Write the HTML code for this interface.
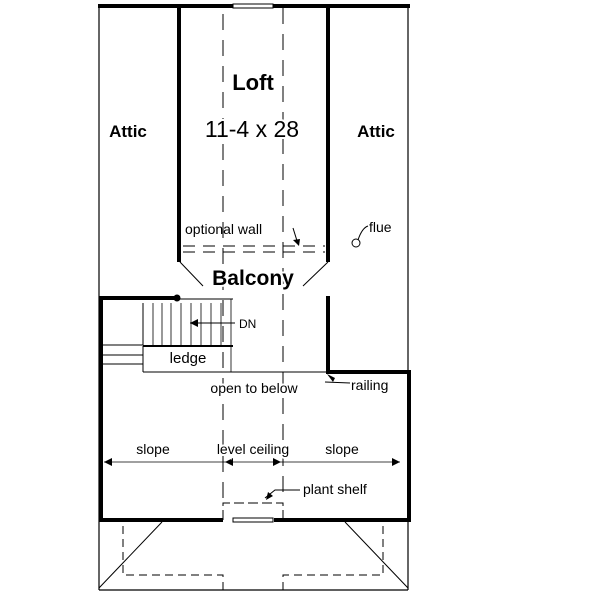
<!DOCTYPE html>
<html><head><style>body{margin:0;background:#fff}svg{display:block}text{font-family:"Liberation Sans",sans-serif;fill:#000}.bg{stroke:#fff;stroke-width:4;paint-order:stroke}</style></head>
<body>
<svg width="600" height="596" viewBox="0 0 600 596" xmlns="http://www.w3.org/2000/svg">
<g stroke="#000" fill="none">
<line x1="99" y1="6" x2="99" y2="590" stroke-width="1.2"/>
<line x1="408" y1="6" x2="408" y2="590" stroke-width="1.2"/>
<line x1="99" y1="590" x2="408" y2="590" stroke-width="1.2"/>
<line x1="98" y1="6" x2="233" y2="6" stroke-width="4"/>
<line x1="273" y1="6" x2="410" y2="6" stroke-width="4"/>
<rect x="233" y="4" width="40" height="4" stroke-width="1"/>
<line x1="179" y1="6" x2="179" y2="262" stroke-width="4"/>
<line x1="328" y1="6" x2="328" y2="262" stroke-width="4"/>
<line x1="180" y1="262" x2="203" y2="286" stroke-width="1"/>
<line x1="328" y1="262" x2="303" y2="286" stroke-width="1"/>
<line x1="223" y1="14" x2="223" y2="500" stroke-width="1" stroke-dasharray="16,10"/>
<line x1="283" y1="8" x2="283" y2="500" stroke-width="1" stroke-dasharray="16,10"/>
<line x1="183" y1="246" x2="325" y2="246" stroke-width="1" stroke-dasharray="12,8"/>
<line x1="183" y1="252" x2="325" y2="252" stroke-width="1" stroke-dasharray="12,8"/>
<line x1="99" y1="298" x2="180" y2="298" stroke-width="4"/>
<line x1="101" y1="296" x2="101" y2="522" stroke-width="4"/>
<line x1="99" y1="520" x2="223" y2="520" stroke-width="4"/>
<line x1="274" y1="520" x2="410" y2="520" stroke-width="4"/>
<rect x="233" y="518" width="40" height="4" stroke-width="1"/>
<line x1="409" y1="372" x2="409" y2="522" stroke-width="4"/>
<line x1="328" y1="296" x2="328" y2="374" stroke-width="4"/>
<line x1="326" y1="372" x2="411" y2="372" stroke-width="4"/>
<line x1="180" y1="299" x2="233" y2="299" stroke-width="1"/>
<circle cx="177" cy="298" r="3" fill="#000"/>
<line x1="143" y1="303" x2="143" y2="345" stroke-width="1"/>
<g stroke-width="0.8">
<line x1="153" y1="303" x2="153" y2="345"/><line x1="162" y1="303" x2="162" y2="345"/>
<line x1="171" y1="303" x2="171" y2="345"/><line x1="181" y1="303" x2="181" y2="345"/>
<line x1="191" y1="303" x2="191" y2="345"/><line x1="201" y1="303" x2="201" y2="345"/>
<line x1="211" y1="303" x2="211" y2="345"/><line x1="221" y1="303" x2="221" y2="345"/>
<line x1="231" y1="299" x2="231" y2="372"/>
</g>
<line x1="143" y1="346" x2="233" y2="346" stroke-width="2"/>
<line x1="143" y1="346" x2="143" y2="372" stroke-width="1"/>
<line x1="143" y1="372" x2="326" y2="372" stroke-width="1"/>
<line x1="101" y1="345" x2="143" y2="345" stroke-width="1"/>
<line x1="101" y1="355" x2="143" y2="355" stroke-width="1"/>
<line x1="101" y1="364" x2="143" y2="364" stroke-width="1"/>
<line x1="235" y1="323" x2="190" y2="323" stroke-width="1"/>
<line x1="104" y1="462" x2="400" y2="462" stroke-width="0.8"/>
<polyline points="223,520 223,503 283,503 283,520" stroke-width="1" stroke-dasharray="10,4"/>
<line x1="162" y1="522" x2="99" y2="588" stroke-width="1"/>
<line x1="345" y1="522" x2="408" y2="588" stroke-width="1"/>
<polyline points="123,526 123,575 223,575 223,590" stroke-width="1" stroke-dasharray="8,5"/>
<polyline points="383,526 383,575 283,575 283,590" stroke-width="1" stroke-dasharray="8,5"/>
<circle cx="356" cy="243" r="4" stroke-width="1"/>
<path d="M358 240 Q362 228 368 226" stroke-width="1"/>
<path d="M325 382 L350 383" stroke-width="1"/>
<path d="M293 228 L298 244" stroke-width="1"/>
<path d="M265 498 L275 490 L300 490" stroke-width="1"/>
</g>
<g fill="#000">
<path d="M190 323 L198 319 L198 327Z"/>
<path d="M104 462 L112 458 L112 466Z"/><path d="M400 462 L392 458 L392 466Z"/>
<path d="M225 462 L233 458 L233 466Z"/><path d="M281 462 L273 458 L273 466Z"/>
<path d="M299 246 L293 240 L300 239Z"/>
<path d="M327 374 L335 378 L333 382Z"/>
<path d="M266 500 L268 492 L273 496Z"/>
</g>
<text class="bg" x="253" y="90" font-size="22" font-weight="bold" text-anchor="middle">Loft</text>
<text class="bg" x="252" y="137" font-size="23" text-anchor="middle">11-4 x 28</text>
<text x="128" y="137" font-size="17" font-weight="bold" text-anchor="middle">Attic</text>
<text x="376" y="137" font-size="17" font-weight="bold" text-anchor="middle">Attic</text>
<text class="bg" x="253" y="285" font-size="21" font-weight="bold" text-anchor="middle">Balcony</text>
<text x="185" y="234" font-size="14">optional wall</text>
<text x="369" y="232" font-size="14">flue</text>
<text x="239" y="328" font-size="12">DN</text>
<text x="188" y="363" font-size="15" text-anchor="middle">ledge</text>
<text class="bg" x="254" y="393" font-size="14" text-anchor="middle">open to below</text>
<text x="351" y="390" font-size="14">railing</text>
<text x="153" y="454" font-size="14" text-anchor="middle">slope</text>
<text class="bg" x="253" y="454" font-size="14" text-anchor="middle">level ceiling</text>
<text x="342" y="454" font-size="14" text-anchor="middle">slope</text>
<text x="303" y="494" font-size="14">plant shelf</text>
</svg>
</body></html>
